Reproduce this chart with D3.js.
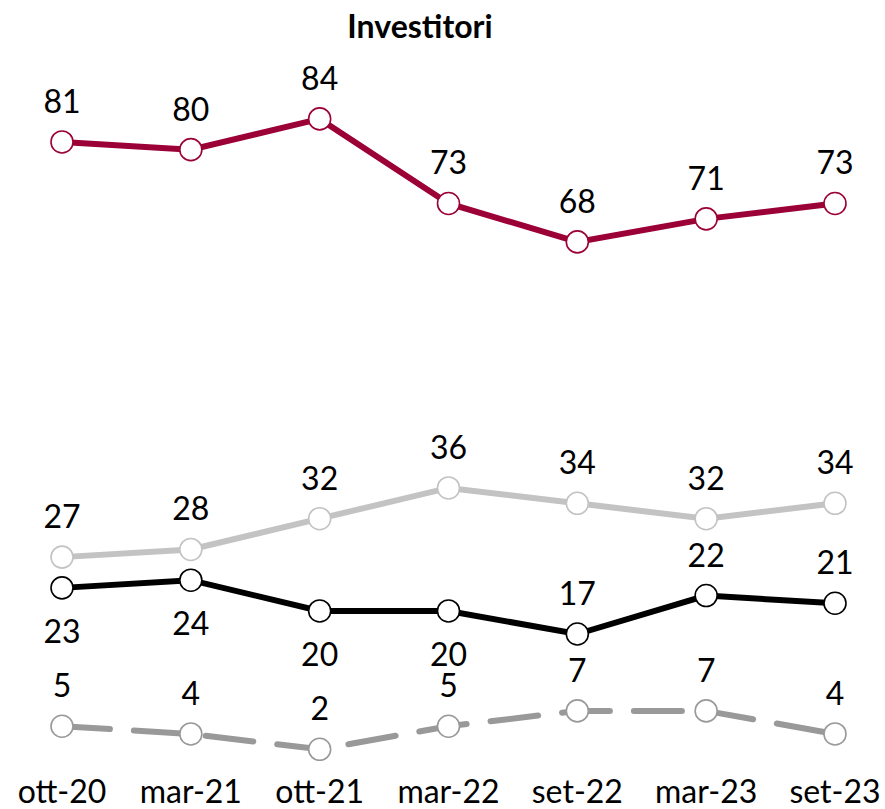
<html>
<head>
<meta charset="utf-8" />
<script src="https://d3js.org/d3.v7.min.js"></script>
<style>
    body { margin: 0px; background: #fff; }
    text { font-family: Lato, "Open Sans", sans-serif; }
</style>
</head>
<body>
<script>
    // periods on the x axis
    var periods = ["ott-20", "mar-21", "ott-21", "mar-22", "set-22", "mar-23", "set-23"];

    // one array per line
    var redValues = [81, 80, 84, 73, 68, 71, 73];
    var lightValues = [27, 28, 32, 36, 34, 32, 34];
    var blackValues = [23, 24, 20, 20, 17, 22, 21];
    var dashedValues = [5, 4, 2, 5, 7, 7, 4];

    // where each label goes (1 = above, 0 = below)
    var blackAbove = [0, 0, 0, 0, 1, 1, 1];

    var width = 885, height = 809;

    var svg = d3.select("body").append("svg")
        .attr("width", width)
        .attr("height", height);

    var x = d3.scalePoint()
        .domain(periods)
        .range([62, 835]);

    var y = d3.scaleLinear()
        .domain([0, 84])
        .range([764.7, 118.9]);

    svg.append("text")
        .attr("x", 420)
        .attr("y", 38)
        .attr("text-anchor", "middle")
        .style("font-size", "32px")
        .style("font-weight", "bold")
        .text("Investitori");

    // x labels
    svg.append("g")
        .selectAll("text")
        .data(periods)
        .enter()
        .append("text")
            .attr("x", d => x(d))
            .attr("y", 803)
            .attr("text-anchor", "middle")
            .style("font-size", "32px")
            .style("fill", "#000")
            .text(d => d);

    var line = d3.line()
        .x((d, i) => x(periods[i]))
        .y(d => y(d));

    function drawSeries(values, color, dash, above) {
        var g = svg.append("g");
        g.append("path")
            .datum(values)
            .attr("d", line)
            .attr("fill", "none")
            .attr("stroke", color)
            .attr("stroke-width", 6)
            .attr("stroke-linecap", dash ? "round" : "butt")
            .attr("stroke-dasharray", dash ? "48,24" : null);
        g.selectAll("circle")
            .data(values)
            .enter()
            .append("circle")
                .attr("cx", (d, i) => x(periods[i]))
                .attr("cy", d => y(d))
                .attr("r", 11)
                .attr("fill", "#fff")
                .attr("stroke", color)
                .attr("stroke-width", 1.6);
        g.selectAll("text")
            .data(values)
            .enter()
            .append("text")
                .attr("x", (d, i) => x(periods[i]))
                .attr("y", (d, i) => above[i] ? y(d) - 29 : y(d) + 55)
                .attr("text-anchor", "middle")
                .style("font-size", "32px")
                .text(d => d);
    }

    var allAbove = periods.map(() => 1);
    drawSeries(redValues, "#9b0036", false, allAbove);
    drawSeries(lightValues, "#c3c3c3", false, allAbove);
    drawSeries(dashedValues, "#999999", true, allAbove);
    drawSeries(blackValues, "#000", false, blackAbove);
</script>
</body>
</html>
